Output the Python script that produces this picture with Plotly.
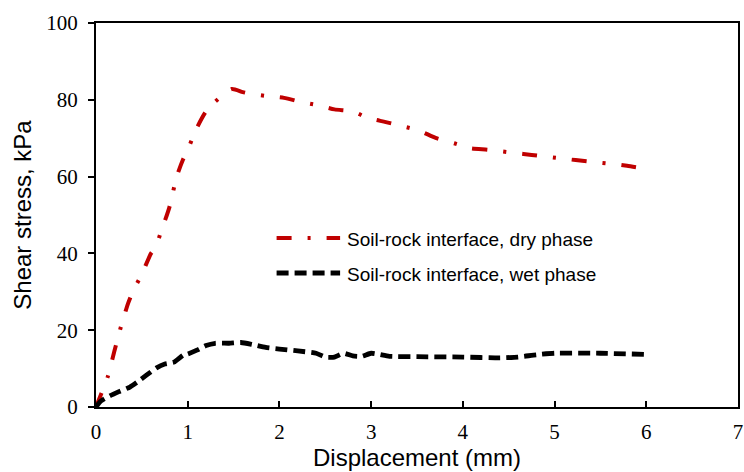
import plotly.graph_objects as go

# Dry phase (red, dash-dot)
dry_x = [0, 0.05, 0.10, 0.13, 0.20, 0.28, 0.35, 0.40, 0.50, 0.60, 0.65, 0.70, 0.80, 0.88, 0.95,
         1.00, 1.10, 1.20, 1.30, 1.48, 1.60, 1.70, 1.85, 2.05, 2.24, 2.42, 2.60, 2.80, 2.96,
         3.16, 3.36, 3.52, 3.71, 3.90, 4.08, 4.27, 4.48, 4.66, 4.84, 5.05, 5.23, 5.42, 5.63,
         5.79, 6.00]
dry_y = [0, 3.0, 6.0, 8.0, 14.5, 21.6, 27.0, 30.0, 34.6, 40.0, 41.5, 45.0, 52.0, 60.0, 64.5,
         67.0, 72.7, 77.0, 79.5, 82.8, 82.0, 81.5, 81.0, 80.5, 79.4, 78.6, 77.5, 77.0, 75.3,
         74.2, 73.0, 72.0, 70.0, 68.7, 67.4, 67.0, 66.4, 65.9, 65.4, 64.8, 64.3, 63.8, 63.3,
         62.8, 62.0]

# Wet phase (black, dashed)
wet_x = [0, 0.05, 0.15, 0.25, 0.37, 0.45, 0.55, 0.66, 0.75, 0.85, 0.95, 1.00, 1.10, 1.20,
         1.30, 1.45, 1.58, 1.70, 1.85, 2.00, 2.20, 2.40, 2.50, 2.60, 2.70, 2.80, 2.90, 3.00,
         3.20, 3.50, 4.00, 4.40, 4.60, 4.80, 5.00, 5.50, 6.00]
wet_y = [0, 1.5, 2.9, 4.0, 5.2, 6.5, 8.3, 10.2, 11.2, 11.7, 13.5, 13.8, 14.8, 16.0,
         16.6, 16.6, 16.8, 16.3, 15.5, 15.1, 14.6, 14.0, 13.0, 13.0, 14.0, 13.3, 13.2, 14.0,
         13.2, 13.1, 13.0, 12.8, 13.0, 13.6, 14.0, 14.0, 13.7]

series_names = ["Soil-rock interface, dry phase", "Soil-rock interface, wet phase"]
x_ticks = [0, 1, 2, 3, 4, 5, 6, 7]
y_ticks = [0, 20, 40, 60, 80, 100]

RED = "#C00000"
DRY_DASH = "15px,16px,3px,16px"
WET_DASH = "12px,6px"

fig = go.Figure()
fig.add_trace(go.Scatter(x=dry_x, y=dry_y, mode="lines", name=series_names[0],
                         line=dict(color=RED, width=4, dash=DRY_DASH, shape="spline", smoothing=0.6),
                         showlegend=False))
fig.add_trace(go.Scatter(x=wet_x, y=wet_y, mode="lines", name=series_names[1],
                         line=dict(color="black", width=4.8, dash=WET_DASH, shape="spline", smoothing=0.5),
                         showlegend=False))

# Custom legend (paper coordinates)
W, H = 647.0, 384.0
def px(xp):
    return (xp - 96) / W
def py(yp):
    return (407 - yp) / H

leg = [(series_names[0], RED, 4, DRY_DASH, 238),
       (series_names[1], "black", 4.8, WET_DASH, 273)]
for name, col, w, dash, yp in leg:
    fig.add_shape(type="line", xref="paper", yref="paper", x0=px(278), x1=px(342),
                  y0=py(yp), y1=py(yp), line=dict(color=col, width=w, dash=dash))
    fig.add_annotation(xref="paper", yref="paper", x=px(347), y=py(yp + 1), text=name,
                       showarrow=False, xanchor="left", yanchor="middle",
                       font=dict(family="Liberation Sans, Arial", size=19, color="black"))

fig.update_layout(
    width=744, height=472,
    margin=dict(l=96, r=1, t=23, b=65),
    paper_bgcolor="white", plot_bgcolor="white",
    showlegend=False,
)
fig.update_xaxes(range=[0, 7], tickvals=x_ticks, ticks="inside", ticklen=6, tickwidth=1.5,
                 tickcolor="black", showline=True, linecolor="black", linewidth=2, mirror=True,
                 showgrid=False, zeroline=False, ticklabelstandoff=5, ticklabeloverflow="allow",
                 tickfont=dict(family="Liberation Serif, Times New Roman", size=21, color="black"),
                 title=dict(text="Displacement (mm)", standoff=6,
                            font=dict(family="Liberation Sans, Arial", size=24, color="black")))
fig.update_yaxes(range=[0, 100], tickvals=y_ticks, ticks="outside", ticklen=6, tickwidth=1.5,
                 tickcolor="black", showline=True, linecolor="black", linewidth=2, mirror=True,
                 showgrid=False, zeroline=False, ticklabelstandoff=6,
                 tickfont=dict(family="Liberation Serif, Times New Roman", size=21, color="black"),
                 title=dict(text="Shear stress, kPa", standoff=8,
                            font=dict(family="Liberation Sans, Arial", size=24, color="black")))

fig.write_html("out.html")
